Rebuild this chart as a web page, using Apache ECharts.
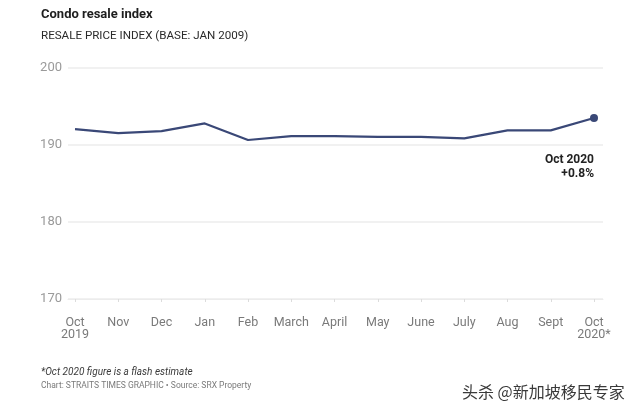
<!DOCTYPE html>
<html>
<head>
<meta charset="utf-8">
<script src="https://cdn.jsdelivr.net/npm/echarts@6/dist/echarts.min.js"></script>
<style>
html,body{margin:0;padding:0;background:#fff;}
#c{width:640px;height:410px;}
</style>
</head>
<body>
<div id="c"></div>
<script>
var categories = ['Oct\n2019','Nov','Dec','Jan','Feb','March','April','May','June','July','Aug','Sept','Oct\n2020*'];
var values = [192.05, 191.55, 191.8, 192.8, 190.65, 191.15, 191.15, 191.05, 191.05, 190.85, 191.9, 191.9, 193.5];
var yTicks = [170, 180, 190, 200];
var annotation = 'Oct 2020\n+0.8%';
var titleText = 'Condo resale index';
var subtitleText = 'RESALE PRICE INDEX (BASE: JAN 2009)';
var footnote = '*Oct 2020 figure is a flash estimate';
var sourceText = 'Chart: STRAITS TIMES GRAPHIC \u2022 Source: SRX Property';
var watermark = '头杀 @新加坡移民专家';

var FONT = 'Roboto, "Liberation Sans", sans-serif';
var idx = categories.map(function(_, i){ return i; });
var seriesData = values.map(function(v, i){
  var d = { value: [i, v] };
  if (i === values.length - 1) {
    d.symbol = 'circle';
    d.symbolSize = 8;
    d.label = {
      show: true, position: 'bottom', align: 'right', offset: [0, 26],
      formatter: annotation, color: '#222', fontWeight: 'bold',
      fontSize: 12, lineHeight: 14, fontFamily: FONT
    };
  }
  return d;
});

var chart = echarts.init(document.getElementById('c'), null, {renderer: 'canvas'});
chart.setOption({
  animation: false,
  backgroundColor: '#fff',
  grid: { left: 68, right: 37, top: 68, bottom: 111, containLabel: false },
  xAxis: {
    type: 'value',
    min: -0.162, max: 12.208,
    axisLine: { show: true, lineStyle: { color: '#ececec', width: 1 } },
    axisTick: { show: true, customValues: idx, length: 3, lineStyle: { color: '#dcdcdc' } },
    splitLine: { show: false },
    axisLabel: {
      customValues: idx,
      formatter: function(v){ return categories[Math.round(v)]; },
      color: '#7a7a7a', fontSize: 12.5, lineHeight: 12, margin: 18, fontFamily: FONT
    }
  },
  yAxis: {
    type: 'value',
    min: 170, max: 200, interval: 10,
    axisLine: { show: false },
    axisTick: { show: false },
    splitLine: { show: true, lineStyle: { color: '#ececec', width: 1.5 } },
    axisLabel: {
      customValues: yTicks,
      color: '#9a9a9a', fontSize: 13, margin: 6, fontFamily: FONT
    }
  },
  series: [{
    type: 'line',
    data: seriesData,
    symbol: 'none',
    showSymbol: true,
    lineStyle: { color: '#3a4877', width: 2.2 },
    itemStyle: { color: '#3a4877' },
    z: 5
  }],
  graphic: [
    { type: 'text', left: 41, top: 8, style: { text: titleText, fill: '#1e1e1e', font: 'bold 13px ' + FONT } },
    { type: 'text', left: 41, top: 30, style: { text: subtitleText, fill: '#2a2a2a', font: '11.6px ' + FONT } },
    { type: 'text', left: 41, top: 367, style: { text: footnote, fill: '#3a3a3a', font: 'italic 10px ' + FONT } },
    { type: 'text', left: 41, top: 381, style: { text: sourceText, fill: '#7a7a7a', font: '8.5px ' + FONT } },
    { type: 'text', left: 461, top: 383, style: { text: watermark, fill: '#3a3a3a', stroke: '#ffffff', lineWidth: 2, font: '16px "Noto Sans CJK SC", sans-serif' } }
  ]
});
</script>
</body>
</html>
